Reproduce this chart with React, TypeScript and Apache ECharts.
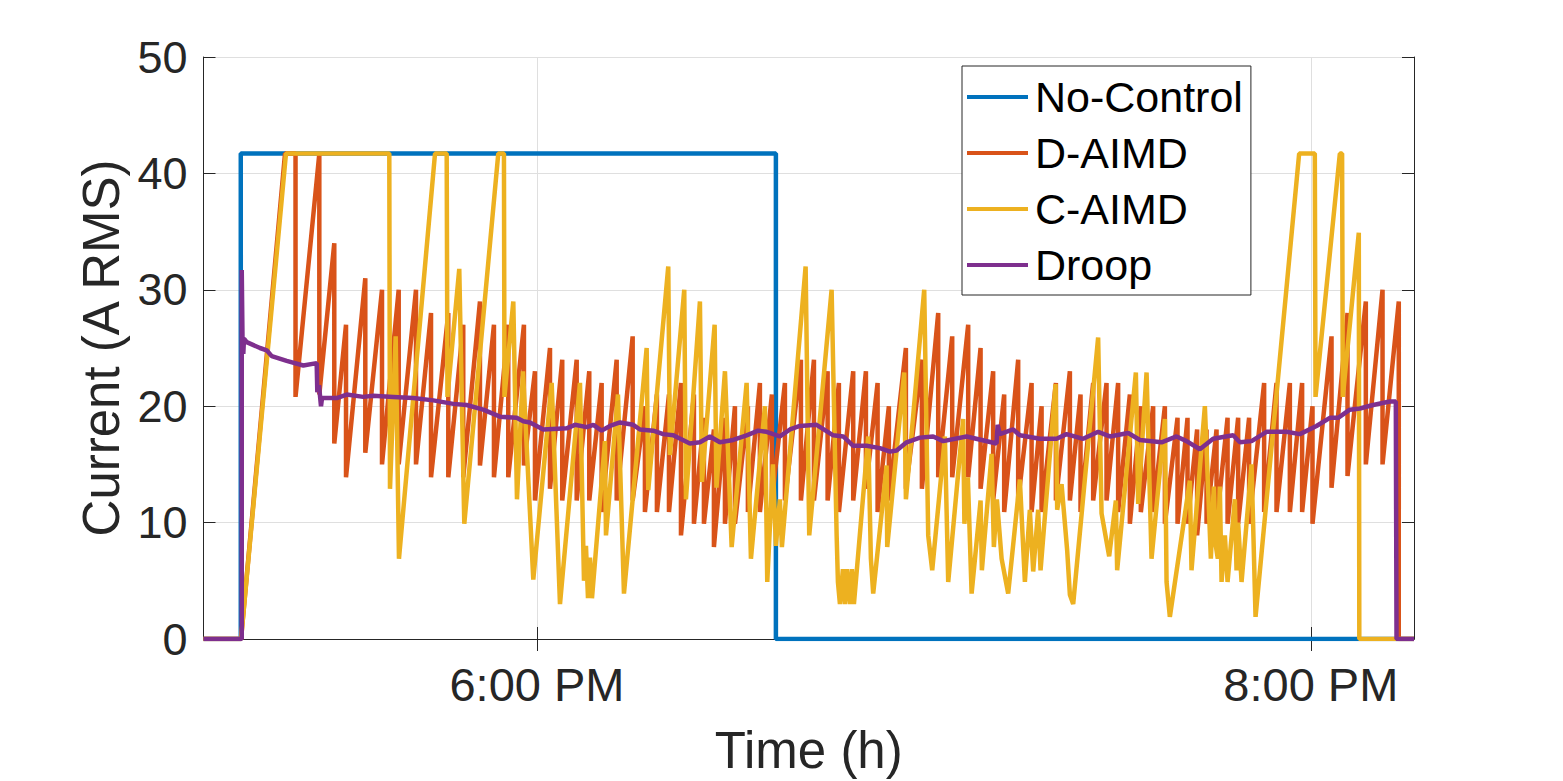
import React, { useEffect, useRef } from "react";
import * as echarts from "echarts";

const seriesNames = ["No-Control", "D-AIMD", "C-AIMD", "Droop"];
const seriesColors = ["#0072BD", "#D95319", "#EDB120", "#7E2F8E"];

// x values are minutes after 5:00 PM
const xStart = 8.29;
const xEnd = 196.0;
const xTickValues = [60, 180];
const yMin = 0;
const yMax = 50;
const yInterval = 10;

const noControlTime = [8.29, 14.07, 14.07, 97.05, 97.05, 196.0];
const noControlValue = [0, 0, 41.7, 41.7, 0, 0];

const dStartTime = [8.29, 14.11, 20.93];
const dStartValue = [0, 0, 41.7];
const dPeakTime = [
  22.56, 26.25, 28.57, 30.39, 33.38, 35.97, 38.56, 41.24, 43.57, 46.25,
  48.57, 51.16, 53.33, 55.55, 57.98, 59.69, 62.02, 63.92, 66.16, 68.11,
  70.03, 72.36, 74.84, 76.74, 78.6, 80.47, 82.33, 84.34, 85.89, 87.44,
  89.15, 90.7, 92.71, 94.57, 96.43, 98.45, 100.93, 102.95, 105.07, 106.82,
  109.04, 111.01, 112.82, 114.57, 117.21, 119.69, 122.22, 124.39, 126.87, 128.79,
  130.74, 132.45, 134.62, 136.7, 138.25, 140.47, 142.64, 144.29, 146.25, 148.32,
  150.12, 151.94, 153.64, 155.55, 157.37, 159.33, 160.88, 162.37, 163.83, 165.38,
  167.09, 168.73, 170.43, 172.76, 174.68, 176.75, 178.65, 180.26, 183.21, 185.69,
  188.53, 191.12, 193.64,
];
const dPeakValue = [
  41.7, 41.7, 34, 27, 31, 30, 30, 30, 28, 28,
  27, 29, 27, 27, 27, 23, 25, 24, 24, 23,
  22, 24, 26, 20, 21, 21, 22, 21, 19, 18,
  19, 20, 20, 22, 21, 22, 24, 24, 23, 22,
  23, 23, 22, 20, 25, 24, 28, 26, 27, 25,
  23, 21, 24, 22, 20, 22, 23, 21, 22, 22,
  22, 21, 20, 20, 20, 19, 19, 18, 18, 18,
  19, 19, 19, 22, 22, 22, 22, 20, 26, 28,
  29, 30, 29,
];
const dTroughValue = [
  20.8, 21, 16.8, 13.9, 16, 15, 15, 15, 13.9, 13.9,
  13.9, 14.9, 13.9, 13.9, 14.9, 11.9, 12.9, 11.9, 11.9, 11.9,
  10.9, 11.9, 11.9, 10.9, 10.9, 10.9, 8.9, 9.9, 9.9, 7.9,
  9.9, 9.9, 10.9, 10.9, 11.9, 11.9, 11.9, 11.9, 11.9, 10.9,
  11.9, 12.9, 10.9, 11.9, 12.9, 12.9, 13.9, 13.9, 13.9, 12.9,
  11.9, 10.9, 11.9, 10.9, 10.9, 11.9, 11.9, 10.9, 11.9, 11.9,
  10.9, 9.9, 10.9, 10.9, 9.9, 9.9, 9.9, 8.9, 9.9, 9.9,
  9.9, 9.9, 9.9, 10.9, 10.9, 10.9, 10.9, 9.9, 13, 14,
  15, 15, 0,
];
const dEndTime = [196.0];
const dEndValue = [0];

const cTime = [
  8.29, 14.11, 21.08, 37.1, 37.21, 38.09, 38.6, 44.19, 46.0, 46.12,
  47.95, 48.73, 54.0, 54.88, 54.96, 56.33, 56.9, 57.83, 59.43, 62.28,
  63.57, 66.67, 67.29, 67.6, 67.91, 68.22, 68.53, 70.54, 70.7, 72.56,
  73.49, 77.01, 77.26, 80.36, 80.62, 82.84, 83.1, 85.27, 85.58, 87.55,
  87.83, 89.15, 90.19, 92.51, 93.18, 95.35, 95.71, 96.59, 97.05, 97.67,
  97.98, 101.66, 102.22, 105.69, 106.47, 106.67, 106.98, 107.44, 107.75, 108.06,
  108.53, 108.84, 109.15, 111.37, 111.78, 112.14, 114.22, 114.31, 116.95, 117.21,
  120.05, 120.67, 121.29, 123.26, 123.77, 126.09, 126.28, 126.82, 127.4, 128.79,
  128.99, 130.5, 130.85, 131.32, 132.05, 133.07, 134.88, 135.66, 136.43, 136.95,
  137.72, 138.09, 140.42, 140.67, 141.35, 142.22, 142.64, 143.15, 147.02, 147.55,
  148.73, 149.77, 149.97, 152.87, 153.23, 154.53, 155.3, 157.37, 157.63, 158.14,
  161.24, 161.5, 163.57, 164.5, 164.96, 165.27, 165.58, 165.89, 166.16, 166.67,
  167.09, 168.22, 168.48, 168.73, 169.26, 170.81, 171.43, 178.19, 180.62, 180.73,
  184.5, 184.85, 184.96, 187.44, 187.52, 196.0,
];
const cValue = [
  0, 0, 41.7, 41.7, 12.9, 26, 6.9, 41.7, 41.7, 20.8,
  31.8, 9.9, 41.7, 41.7, 20.8, 29, 12, 23, 5.1, 22,
  3, 22, 5, 8, 3.5, 7, 3.5, 17, 8.9, 21,
  3.9, 25, 12.8, 32, 15.8, 30, 12, 29, 13.5, 27,
  13, 23, 7.9, 22, 6.9, 20, 4.9, 15, 8, 12,
  7.9, 32, 8.9, 30, 8.9, 4.9, 3, 6, 3, 6,
  3, 6, 3, 17.4, 6.9, 3.9, 14.9, 7.9, 22.9, 12,
  30, 8.9, 5.9, 17.4, 4.9, 18.9, 9.9, 13.9, 3.9, 11.9,
  5.9, 15.9, 7.9, 12, 6.9, 3.9, 13.7, 4.9, 11.1, 5.8,
  11.1, 5.9, 21.9, 11.1, 13.3, 7.6, 3.8, 3.0, 25.9, 10.8,
  7.1, 11.9, 5.9, 22.9, 11.6, 22.9, 6.9, 18.9, 4.9, 1.9,
  13.6, 5.9, 20, 6.9, 13.1, 8, 6.9, 13.1, 4.9, 8.9,
  4.9, 12, 5.9, 10, 4.9, 15, 1.9, 41.7, 41.7, 20.8,
  41.7, 41.7, 20.8, 34.9, 0, 0,
];

const droopTime = [
  8.29, 14.22, 14.22, 14.34, 14.46, 14.57, 14.99, 17.05, 18.09, 18.87,
  21.19, 23.77, 25.84, 25.94, 26.2, 26.51, 26.67, 28.95, 30.5, 33.07,
  34.62, 37.72, 40.82, 43.92, 47.02, 49.1, 51.67, 54.26, 56.85, 57.88,
  58.91, 60.98, 64.6, 65.89, 67.71, 68.73, 70.03, 71.32, 72.87, 74.93,
  75.97, 78.03, 79.58, 81.13, 83.72, 85.27, 86.82, 88.37, 90.43, 92.51,
  94.31, 95.61, 97.67, 99.23, 100.78, 103.36, 105.94, 107.49, 109.04, 111.12,
  113.18, 114.73, 115.77, 117.32, 119.38, 121.44, 122.99, 126.62, 131.27, 131.43,
  131.78, 133.85, 134.88, 137.99, 140.57, 142.12, 144.7, 147.02, 148.84, 151.68,
  153.49, 156.85, 159.18, 160.73, 162.79, 164.85, 167.96, 169.0, 170.81, 173.13,
  176.23, 178.3, 180.88, 182.95, 184.23, 186.05, 187.6, 189.66, 192.25, 193.18,
  193.29, 196.0,
];
const droopValue = [
  0, 0, 31.7, 25.7, 24.5, 25.8, 25.5, 25.0, 24.8, 24.3,
  23.9, 23.5, 23.7, 21.2, 21.8, 20.0, 20.7, 20.7, 21.0, 20.8,
  20.9, 20.8, 20.7, 20.5, 20.2, 20.1, 19.7, 19.1, 19.0, 18.7,
  18.6, 18.0, 18.1, 18.4, 18.2, 18.4, 17.9, 18.3, 18.6, 18.4,
  18.0, 17.9, 17.6, 17.5, 16.8, 16.9, 17.4, 16.9, 17.1, 17.5,
  17.9, 17.8, 17.4, 18.0, 18.3, 18.4, 17.5, 17.4, 16.6, 16.6,
  16.4, 16.1, 16.2, 16.9, 17.3, 17.4, 17.0, 17.4, 16.8, 18.4,
  17.6, 18.0, 17.5, 17.2, 17.2, 17.6, 17.2, 17.8, 17.4, 17.7,
  17.1, 16.9, 17.4, 17.0, 16.3, 17.2, 17.5, 16.9, 17.0, 17.8,
  17.8, 17.6, 18.3, 19.0, 19.0, 19.7, 19.8, 20.1, 20.4, 20.4,
  0, 0,
];

const FONT = "'Liberation Sans', Arial, Helvetica, sans-serif";
const TEXT_COLOR = "#262626";
const LINE_WIDTH = 4.5;

function zip(t: number[], v: number[]): number[][] {
  return t.map((x, i) => [x, v[i]]);
}

function buildDAIMD(): number[][] {
  const pts = zip(dStartTime, dStartValue);
  dPeakTime.forEach((t, i) => {
    pts.push([t, dPeakValue[i]]);
    pts.push([t, dTroughValue[i]]);
  });
  return pts.concat(zip(dEndTime, dEndValue));
}

function timeLabel(v: number): string {
  const total = Math.round(17 * 60 + v);
  const h24 = Math.floor(total / 60);
  const mm = total % 60;
  const h12 = h24 % 12 === 0 ? 12 : h24 % 12;
  return `${h12}:${String(mm).padStart(2, "0")} ${h24 >= 12 ? "PM" : "AM"}`;
}

export default function App() {
  const ref = useRef<HTMLDivElement>(null);

  useEffect(() => {
    if (!ref.current) return;
    const chart = echarts.init(ref.current, undefined, { renderer: "svg" });

    const dataSets = [
      zip(noControlTime, noControlValue),
      buildDAIMD(),
      zip(cTime, cValue),
      zip(droopTime, droopValue),
    ];

    const axisLine = { show: true, lineStyle: { color: TEXT_COLOR, width: 1 } };
    const tickStyle = { show: true, inside: true, length: 12, lineStyle: { color: TEXT_COLOR, width: 1 } };

    chart.setOption({
      animation: false,
      backgroundColor: "#ffffff",
      textStyle: { fontFamily: FONT },
      grid: {
        left: 203.5,
        right: 149,
        top: 57,
        bottom: 142,
        outerBoundsMode: "none",
        containLabel: false,
      },
      legend: {
        orient: "vertical",
        left: 962,
        top: 66,
        icon: "rect",
        itemWidth: 61,
        itemHeight: 4,
        itemGap: 12,
        padding: [9, 8, 8, 5],
        borderColor: TEXT_COLOR,
        borderWidth: 1,
        borderRadius: 0,
        backgroundColor: "#ffffff",
        textStyle: { fontSize: 43, color: "#000000", fontFamily: FONT, lineHeight: 44, padding: [0, 0, 0, 2] },
        data: seriesNames,
      },
      xAxis: [
        {
          type: "value",
          position: "bottom",
          min: xStart,
          max: xEnd,
          name: "Time (h)",
          nameLocation: "middle",
          nameGap: 86,
          nameTextStyle: { fontSize: 51, color: TEXT_COLOR, fontFamily: FONT },
          axisLine,
          axisTick: { ...tickStyle, customValues: xTickValues },
          axisLabel: {
            customValues: xTickValues,
            formatter: (v: number) => timeLabel(v),
            fontSize: 47,
            color: TEXT_COLOR,
            fontFamily: FONT,
            margin: 22,
          },
          splitLine: { show: true, lineStyle: { color: "#dfdfdf", width: 1 } },
        },
        {
          type: "value",
          position: "top",
          min: xStart,
          max: xEnd,
          axisLine,
          axisTick: { ...tickStyle, customValues: xTickValues },
          axisLabel: { show: false },
          splitLine: { show: false },
        },
      ],
      yAxis: [
        {
          type: "value",
          position: "left",
          min: yMin,
          max: yMax,
          interval: yInterval,
          name: "Current (A RMS)",
          nameLocation: "middle",
          nameGap: 74,
          nameTextStyle: { fontSize: 51, color: TEXT_COLOR, fontFamily: FONT },
          axisLine,
          axisTick: tickStyle,
          axisLabel: { fontSize: 45, color: TEXT_COLOR, fontFamily: FONT, margin: 16 },
          splitLine: { show: true, lineStyle: { color: "#dfdfdf", width: 1 } },
        },
        {
          type: "value",
          position: "right",
          min: yMin,
          max: yMax,
          interval: yInterval,
          axisLine,
          axisTick: tickStyle,
          axisLabel: { show: false },
          splitLine: { show: false },
        },
      ],
      series: seriesNames.map((name, i) => ({
        name,
        type: "line",
        xAxisIndex: 0,
        yAxisIndex: 0,
        data: dataSets[i],
        symbol: "none",
        showSymbol: false,
        color: seriesColors[i],
        lineStyle: { color: seriesColors[i], width: LINE_WIDTH },
        itemStyle: { color: seriesColors[i] },
        emphasis: { disabled: true },
        clip: true,
        silent: true,
      })),
    });

    return () => chart.dispose();
  }, []);

  return (
    <div
      ref={ref}
      style={{ position: "fixed", left: 0, top: 0, width: 1563, height: 781, background: "#ffffff" }}
    />
  );
}
